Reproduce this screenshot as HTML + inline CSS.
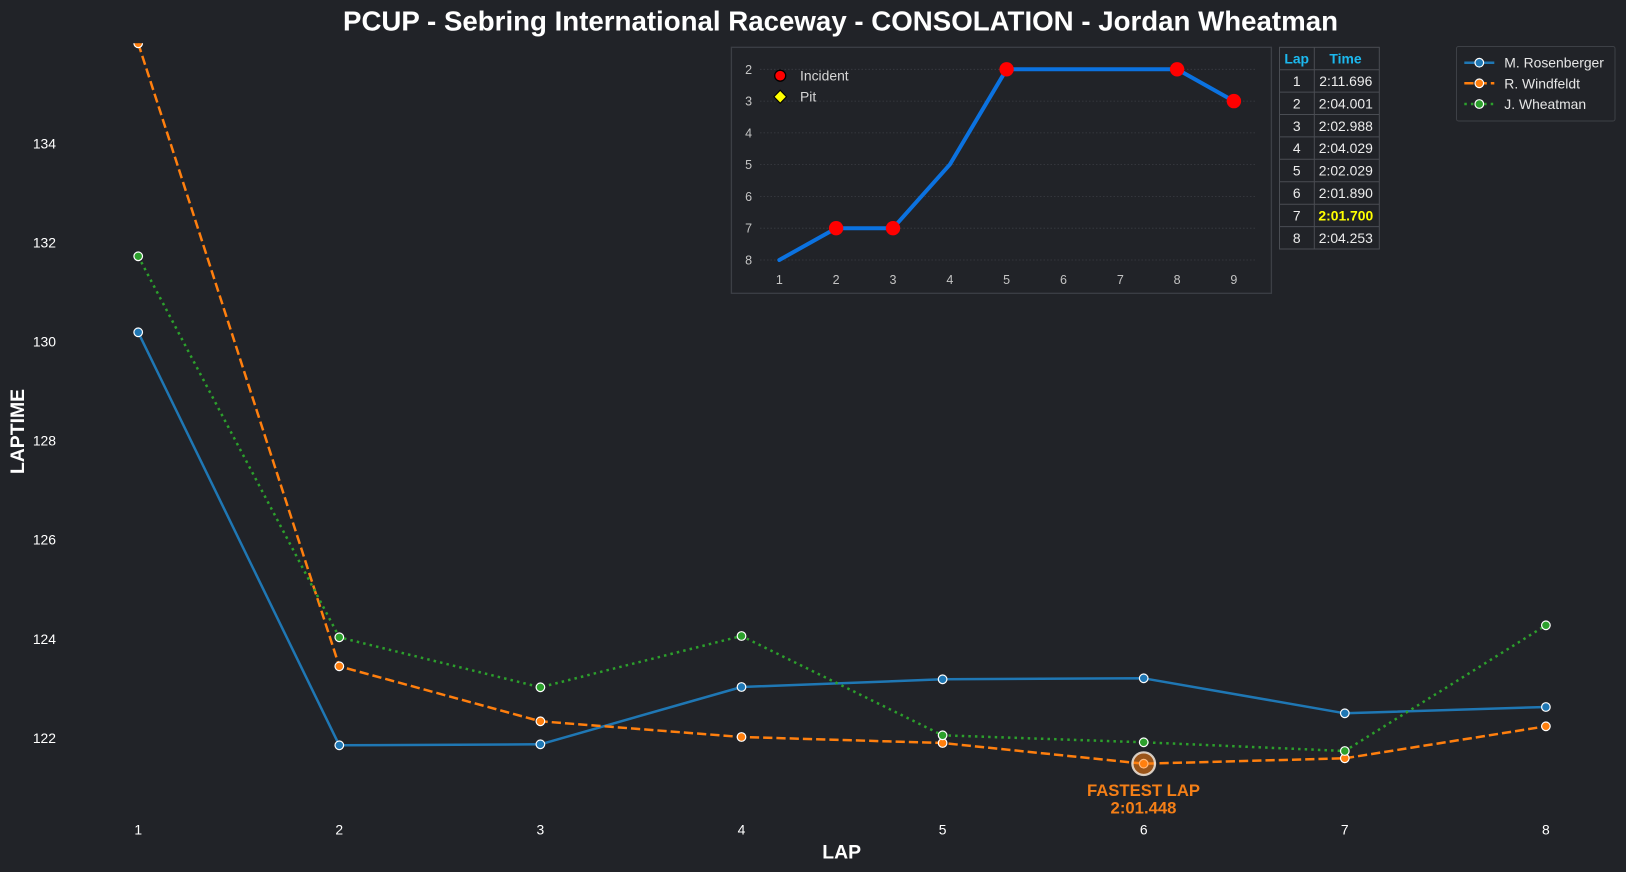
<!DOCTYPE html>
<html><head><meta charset="utf-8"><style>
html,body{margin:0;padding:0;background:#212328;}
svg{display:block;}
text{font-family:"Liberation Sans",Arial,sans-serif;}
</style></head><body>
<svg width="1626" height="872" viewBox="0 0 1626 872" xmlns="http://www.w3.org/2000/svg">
<rect x="0" y="0" width="1626" height="872" fill="#212328"/>
<defs>
<clipPath id="pc"><rect x="60" y="43.3" width="1566" height="800"/></clipPath>
</defs>

<!-- Title -->
<text x="840.5" y="30.5" font-size="27.7" font-weight="bold" fill="#ffffff" text-anchor="middle" textLength="995" lengthAdjust="spacingAndGlyphs">PCUP - Sebring International Raceway - CONSOLATION - Jordan Wheatman</text>

<!-- Y tick labels -->
<g font-size="13.9" fill="#ffffff" text-anchor="end">
<text x="56" y="148.3">134</text>
<text x="56" y="247.4">132</text>
<text x="56" y="346.5">130</text>
<text x="56" y="445.6">128</text>
<text x="56" y="544.7">126</text>
<text x="56" y="643.8">124</text>
<text x="56" y="742.9">122</text>
</g>
<!-- X tick labels -->
<g font-size="13.9" fill="#ffffff" text-anchor="middle">
<text x="138.2" y="834.5">1</text>
<text x="339.3" y="834.5">2</text>
<text x="540.4" y="834.5">3</text>
<text x="741.5" y="834.5">4</text>
<text x="942.6" y="834.5">5</text>
<text x="1143.7" y="834.5">6</text>
<text x="1344.8" y="834.5">7</text>
<text x="1545.9" y="834.5">8</text>
</g>
<!-- Axis labels -->
<text x="841.7" y="858.6" font-size="19.4" font-weight="bold" fill="#ffffff" text-anchor="middle">LAP</text>
<text transform="translate(24,431.5) rotate(-90)" x="0" y="0" font-size="19.4" font-weight="bold" fill="#ffffff" text-anchor="middle">LAPTIME</text>

<!-- Series -->
<g clip-path="url(#pc)" fill="none">
<polyline stroke="#1f77b4" stroke-width="2.5" stroke-linejoin="round"
 points="138.2,332.3 339.3,745.3 540.4,744.3 741.5,687 942.6,679.3 1143.7,678.3 1344.8,713.3 1545.9,707"/>
<polyline stroke="#ff7f0e" stroke-width="2.5" stroke-dasharray="9.25 4"
 points="138.2,43.3 339.3,666.3 540.4,721.3 741.5,737 942.6,743 1143.7,763.7 1344.8,758.3 1545.9,726.3"/>
<polyline stroke="#2ca02c" stroke-width="2.5" stroke-dasharray="2.5 4.1"
 points="138.2,256.3 339.3,637.3 540.4,687.3 741.5,636 942.6,735.3 1143.7,742.3 1344.8,751 1545.9,625.3"/>

<g fill="#1f77b4" stroke="#ffffff" stroke-width="1.2">
<circle cx="138.2" cy="332.3" r="4.3"/><circle cx="339.3" cy="745.3" r="4.3"/><circle cx="540.4" cy="744.3" r="4.3"/><circle cx="741.5" cy="687" r="4.3"/><circle cx="942.6" cy="679.3" r="4.3"/><circle cx="1143.7" cy="678.3" r="4.3"/><circle cx="1344.8" cy="713.3" r="4.3"/><circle cx="1545.9" cy="707" r="4.3"/>
</g>
<g fill="#ff7f0e" stroke="#ffffff" stroke-width="1.2">
<circle cx="138.2" cy="43.3" r="4.3"/><circle cx="339.3" cy="666.3" r="4.3"/><circle cx="540.4" cy="721.3" r="4.3"/><circle cx="741.5" cy="737" r="4.3"/><circle cx="942.6" cy="743" r="4.3"/><circle cx="1143.7" cy="763.7" r="4.3"/><circle cx="1344.8" cy="758.3" r="4.3"/><circle cx="1545.9" cy="726.3" r="4.3"/>
</g>
<g fill="#2ca02c" stroke="#ffffff" stroke-width="1.2">
<circle cx="138.2" cy="256.3" r="4.3"/><circle cx="339.3" cy="637.3" r="4.3"/><circle cx="540.4" cy="687.3" r="4.3"/><circle cx="741.5" cy="636" r="4.3"/><circle cx="942.6" cy="735.3" r="4.3"/><circle cx="1143.7" cy="742.3" r="4.3"/><circle cx="1344.8" cy="751" r="4.3"/><circle cx="1545.9" cy="625.3" r="4.3"/>
</g>
<!-- Fastest lap highlight -->
<circle cx="1143.7" cy="763.7" r="11.3" fill="rgba(255,127,14,0.55)" stroke="rgba(240,230,220,0.85)" stroke-width="2.3"/>
</g>
<text x="1143.5" y="796" font-size="16.7" font-weight="bold" fill="#f47f17" text-anchor="middle">FASTEST LAP</text>
<text x="1143.5" y="813.3" font-size="16.7" font-weight="bold" fill="#f47f17" text-anchor="middle">2:01.448</text>

<!-- Inset -->
<rect x="731.4" y="47.3" width="540" height="246" fill="#212328" stroke="#3c3f45" stroke-width="1.3"/>
<g stroke="#3a3d43" stroke-width="0.8" stroke-dasharray="1.5 2">
<line x1="760" y1="69.3" x2="1257" y2="69.3"/>
<line x1="760" y1="101.1" x2="1257" y2="101.1"/>
<line x1="760" y1="132.9" x2="1257" y2="132.9"/>
<line x1="760" y1="164.6" x2="1257" y2="164.6"/>
<line x1="760" y1="196.4" x2="1257" y2="196.4"/>
<line x1="760" y1="228.2" x2="1257" y2="228.2"/>
<line x1="760" y1="260" x2="1257" y2="260"/>
</g>
<g font-size="12.5" fill="#c4c4c4" text-anchor="middle">
<text x="748.6" y="73.8">2</text>
<text x="748.6" y="105.6">3</text>
<text x="748.6" y="137.4">4</text>
<text x="748.6" y="169.1">5</text>
<text x="748.6" y="200.9">6</text>
<text x="748.6" y="232.7">7</text>
<text x="748.6" y="264.5">8</text>
<text x="779.3" y="283.8">1</text>
<text x="836.1" y="283.8">2</text>
<text x="893" y="283.8">3</text>
<text x="949.8" y="283.8">4</text>
<text x="1006.6" y="283.8">5</text>
<text x="1063.5" y="283.8">6</text>
<text x="1120.3" y="283.8">7</text>
<text x="1177.1" y="283.8">8</text>
<text x="1233.9" y="283.8">9</text>
</g>
<polyline fill="none" stroke="#0b72e0" stroke-width="4" stroke-linejoin="round" stroke-linecap="round"
 points="779.3,260 836.1,228.2 893,228.2 949.8,164.6 1006.6,69.3 1063.5,69.3 1120.3,69.3 1177.1,69.3 1233.9,101.1"/>
<g fill="#ff0000">
<circle cx="836.1" cy="228.2" r="7.2"/>
<circle cx="893" cy="228.2" r="7.2"/>
<circle cx="1006.6" cy="69.3" r="7.2"/>
<circle cx="1177.1" cy="69.3" r="7.2"/>
<circle cx="1233.9" cy="101.1" r="7.2"/>
</g>
<circle cx="780.2" cy="75.7" r="5.5" fill="#ff0000" stroke="#000000" stroke-width="1.3"/>
<polygon points="780.2,90.2 786.5,96.7 780.2,103.2 773.9,96.7" fill="#ffff00" stroke="#000000" stroke-width="1.1"/>
<text x="800" y="80.7" font-size="13.9" fill="#d6d6d6">Incident</text>
<text x="800" y="101.7" font-size="13.9" fill="#d6d6d6">Pit</text>

<!-- Table -->
<g stroke="#4a4d53" stroke-width="1" fill="none">
<rect x="1279.5" y="47.3" width="99.8" height="201.7"/>
<line x1="1314.3" y1="47.3" x2="1314.3" y2="249"/>
<line x1="1279.5" y1="69.7" x2="1379.3" y2="69.7"/>
<line x1="1279.5" y1="92.1" x2="1379.3" y2="92.1"/>
<line x1="1279.5" y1="114.5" x2="1379.3" y2="114.5"/>
<line x1="1279.5" y1="136.9" x2="1379.3" y2="136.9"/>
<line x1="1279.5" y1="159.3" x2="1379.3" y2="159.3"/>
<line x1="1279.5" y1="181.8" x2="1379.3" y2="181.8"/>
<line x1="1279.5" y1="204.2" x2="1379.3" y2="204.2"/>
<line x1="1279.5" y1="226.6" x2="1379.3" y2="226.6"/>
</g>
<g font-size="13.9" text-anchor="middle">
<text x="1296.7" y="63.6" fill="#1cb8ee" font-weight="bold">Lap</text>
<text x="1345.5" y="63.6" fill="#1cb8ee" font-weight="bold">Time</text>
<g fill="#ececec">
<text x="1296.7" y="86">1</text><text x="1345.8" y="86">2:11.696</text>
<text x="1296.7" y="108.4">2</text><text x="1345.8" y="108.4">2:04.001</text>
<text x="1296.7" y="130.8">3</text><text x="1345.8" y="130.8">2:02.988</text>
<text x="1296.7" y="153.2">4</text><text x="1345.8" y="153.2">2:04.029</text>
<text x="1296.7" y="175.6">5</text><text x="1345.8" y="175.6">2:02.029</text>
<text x="1296.7" y="198">6</text><text x="1345.8" y="198">2:01.890</text>
<text x="1296.7" y="220.4">7</text>
<text x="1296.7" y="242.8">8</text><text x="1345.8" y="242.8">2:04.253</text>
</g>
<text x="1345.8" y="220.4" fill="#ffff00" font-weight="bold">2:01.700</text>
</g>

<!-- Legend -->
<rect x="1456.5" y="46.5" width="158.5" height="74.5" rx="2" fill="#212328" stroke="#3d4046" stroke-width="1"/>
<line x1="1464.3" y1="62.7" x2="1494.3" y2="62.7" stroke="#1f77b4" stroke-width="2.5"/>
<circle cx="1479.3" cy="62.7" r="4.3" fill="#1f77b4" stroke="#ffffff" stroke-width="1.2"/>
<line x1="1464.3" y1="83.3" x2="1494.3" y2="83.3" stroke="#ff7f0e" stroke-width="2.5" stroke-dasharray="9.25 4"/>
<circle cx="1479.3" cy="83.3" r="4.3" fill="#ff7f0e" stroke="#ffffff" stroke-width="1.2"/>
<line x1="1464.3" y1="104" x2="1494.3" y2="104" stroke="#2ca02c" stroke-width="2.5" stroke-dasharray="2.5 4.1"/>
<circle cx="1479.3" cy="104" r="4.3" fill="#2ca02c" stroke="#ffffff" stroke-width="1.2"/>
<g font-size="13.9" fill="#e6e6e6">
<text x="1504.3" y="67.7">M. Rosenberger</text>
<text x="1504.3" y="88.3">R. Windfeldt</text>
<text x="1504.3" y="109">J. Wheatman</text>
</g>
</svg>
</body></html>
